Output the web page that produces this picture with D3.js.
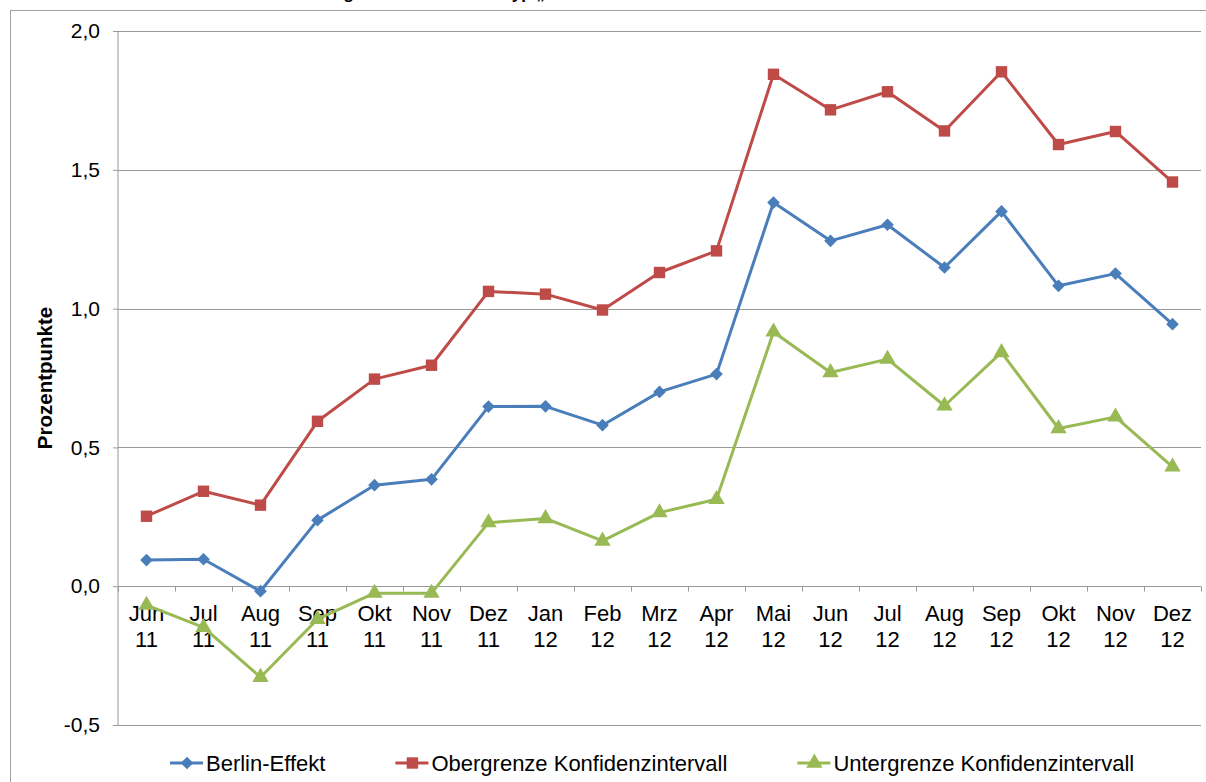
<!DOCTYPE html>
<html>
<head>
<meta charset="utf-8">
<script src="https://cdn.jsdelivr.net/npm/d3@7"></script>
<style>
  body { margin: 0; background: #fff; }
  svg { display: block; font-family: "Liberation Sans", Arial, sans-serif; }
</style>
</head>
<body>
<svg id="chart"></svg>
<script>
// categories (month / year)
var months = ["Jun","Jul","Aug","Sep","Okt","Nov","Dez","Jan","Feb","Mrz","Apr","Mai","Jun","Jul","Aug","Sep","Okt","Nov","Dez"];
var years  = ["11","11","11","11","11","11","11","12","12","12","12","12","12","12","12","12","12","12","12"];

// series values (Prozentpunkte)
var berlinEffekt = [0.094, 0.097, -0.018, 0.238, 0.364, 0.385, 0.647, 0.648, 0.58, 0.70, 0.764, 1.382, 1.244, 1.302, 1.148, 1.350, 1.082, 1.126, 0.944];
var obergrenze   = [0.252, 0.342, 0.292, 0.594, 0.746, 0.796, 1.062, 1.052, 0.995, 1.130, 1.208, 1.844, 1.716, 1.781, 1.640, 1.853, 1.591, 1.638, 1.456];
var untergrenze  = [-0.068, -0.148, -0.328, -0.119, -0.025, -0.025, 0.229, 0.244, 0.163, 0.265, 0.313, 0.916, 0.770, 0.818, 0.650, 0.842, 0.568, 0.610, 0.430];

var seriesNames = ["Berlin-Effekt", "Obergrenze Konfidenzintervall", "Untergrenze Konfidenzintervall"];
var yTicks = [-0.5, 0, 0.5, 1.0, 1.5, 2.0];

//define bounds
var W = 1206, H = 782;
var plot = {left: 118, right: 1201, top: 31, bottom: 725};

//define style
var gridColor = "#999999";
var colors = ["#4a7ebb", "#be4b48", "#98b954"];
var symbols = [d3.symbolSquare, d3.symbolSquare, d3.symbolTriangle];
var symSizes = [80, 130, 115];
var symRotate = [45, 0, 0];

var fmt = function (v) { return d3.format(".1f")(v).replace(".", ",").replace("−", "-"); };

var svg = d3.select("#chart").attr("width", W).attr("height", H);

// outer chart frame (extends past the picture on right and bottom)
svg.append("rect")
    .attr("x", 10.5).attr("y", 10.5)
    .attr("width", 1220).attr("height", 800)
    .attr("fill", "none").attr("stroke", "#a0a0a0");

// title, mostly cut off above the frame
svg.append("text")
    .attr("x", 268).attr("y", -1)
    .style("font-weight", "bold").style("font-size", "17px")
    .text("Schätzung Berlin-Effekt Haustyp „Altbau“");

var categories = months.map(function (m, i) { return i; });

var x = d3.scaleBand()
    .domain(categories)
    .range([plot.left, plot.right])
    .padding(0);
var y = d3.scaleLinear()
    .domain([-0.5, 2.0])
    .range([plot.bottom, plot.top]);

var cx = function (i) { return x(i) + x.bandwidth() / 2; };

// y axis
var yAxis = d3.axisLeft(y)
    .tickValues(yTicks)
    .tickSize(5)
    .tickPadding(13)
    .tickFormat(fmt);

var gy = svg.append("g")
    .attr("transform", "translate(" + plot.left + ",0)")
    .call(yAxis);
gy.select(".domain").attr("stroke", gridColor).attr("d", "M-0.5," + plot.top + "V" + plot.bottom).attr("transform", "translate(0.5,0)");
gy.selectAll(".tick line").attr("stroke", gridColor);
gy.selectAll(".tick text")
    .style("font-size", "21px").attr("fill", "#000");

// horizontal gridlines
svg.append("g").selectAll("line")
    .data(yTicks.filter(function (t) { return t !== 0; }))
    .enter().append("line")
    .attr("x1", plot.left).attr("x2", plot.right)
    .attr("y1", function (d) { return Math.round(y(d)) + 0.5; })
    .attr("y2", function (d) { return Math.round(y(d)) + 0.5; })
    .attr("stroke", gridColor);

// x axis at zero with ticks between categories
var y0 = Math.round(y(0)) + 0.5;
svg.append("line")
    .attr("x1", plot.left).attr("x2", plot.right)
    .attr("y1", y0).attr("y2", y0)
    .attr("stroke", gridColor);
var bounds = categories.map(function (i) { return x(i); }).concat([plot.right]);
svg.append("g").selectAll("line")
    .data(bounds)
    .enter().append("line")
    .attr("x1", function (d) { return Math.round(d) + 0.5; })
    .attr("x2", function (d) { return Math.round(d) + 0.5; })
    .attr("y1", y0).attr("y2", y0 + 5)
    .attr("stroke", gridColor);

var labels = svg.append("g").selectAll("text")
    .data(categories)
    .enter().append("text")
    .attr("text-anchor", "middle")
    .style("font-size", "22px")
    .attr("x", cx)
    .attr("y", 621);
labels.append("tspan").attr("x", cx).text(function (i) { return months[i]; });
labels.append("tspan").attr("x", cx).attr("dy", 26).text(function (i) { return years[i]; });

// y title
svg.append("text")
    .attr("transform", "translate(52,378) rotate(-90)")
    .attr("text-anchor", "middle")
    .style("font-weight", "bold").style("font-size", "20.5px")
    .text("Prozentpunkte");

// series
var allSeries = [berlinEffekt, obergrenze, untergrenze];
var line = d3.line()
    .x(function (d, i) { return cx(i); })
    .y(function (d) { return y(d); });

// draw green first, then red, then blue on top
[2, 1, 0].forEach(function (s) {
  var g = svg.append("g");
  g.append("path")
      .datum(allSeries[s])
      .attr("fill", "none")
      .attr("stroke", colors[s])
      .attr("stroke-width", 3)
      .attr("stroke-linejoin", "round")
      .attr("d", line);
  g.selectAll("path.m")
      .data(allSeries[s])
      .enter().append("path")
      .attr("class", "m")
      .attr("fill", colors[s])
      .attr("d", d3.symbol().type(symbols[s]).size(symSizes[s]))
      .attr("transform", function (d, i) {
        return "translate(" + cx(i) + "," + y(d) + ") rotate(" + symRotate[s] + ")";
      });
});

// legend
var lx = 170, ly = 763;
seriesNames.forEach(function (name, s) {
  var g = svg.append("g").attr("transform", "translate(" + lx + "," + ly + ")");
  g.append("line").attr("x1", 0).attr("x2", 33).attr("y1", 0).attr("y2", 0)
      .attr("stroke", colors[s]).attr("stroke-width", 3);
  g.append("path")
      .attr("fill", colors[s])
      .attr("d", d3.symbol().type(symbols[s]).size(symSizes[s]))
      .attr("transform", "translate(17,0) rotate(" + symRotate[s] + ")");
  var t = g.append("text")
      .attr("x", 36).attr("y", 8)
      .style("font-size", "22px")
      .text(name);
  lx += 36 + t.node().getComputedTextLength() + 70;
});
</script>
</body>
</html>
